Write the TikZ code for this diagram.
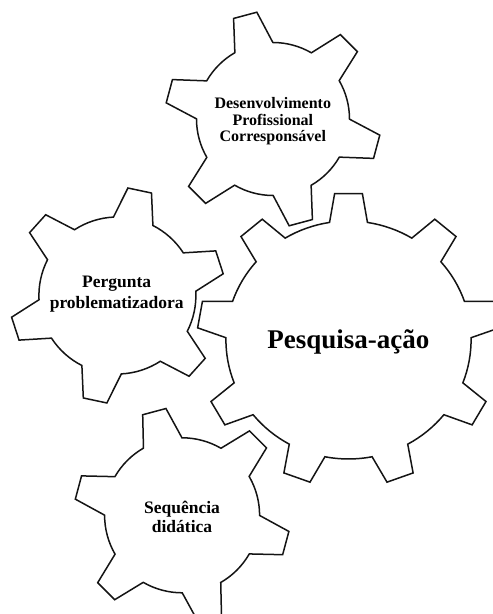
\documentclass[tikz,border=0pt]{standalone}
\usepackage{fontspec}
\setmainfont{Liberation Serif}
\tikzset{
  gearline/.style={draw=black!92, line width=1.5pt, line join=miter, fill=white},
  geartext/.style={font=\bfseries, align=center, inner sep=0pt, text=black},
}
% #1 scope options, #2 cx, #3 cy, #4 tip radius, #5 root radius, #6 teeth, #7 offset, #8 tip half angle, #9 base half angle
\newcommand\drawgear[9]{%
  \begin{scope}[shift={(#2,#3)},#1]
    \pgfmathsetmacro\gp{360/#6}
    \draw[gearline] ({#7-#9}:#5pt)
      \foreach \k in {1,...,#6} {
        -- ({#7+(\k-1)*\gp-#8}:#4pt)
        -- ({#7+(\k-1)*\gp+#8}:#4pt)
        -- ({#7+(\k-1)*\gp+#9}:#5pt)
        arc[start angle={#7+(\k-1)*\gp+#9}, end angle={#7+\k*\gp-#9}, radius=#5pt]
      } -- cycle;
  \end{scope}}
\begin{document}
\begin{tikzpicture}[x=1pt,y=1pt]
  \useasboundingbox (0,0) rectangle (493,614);
  \clip (0,0) rectangle (493,614);
  % top gear
  \drawgear{}{273}{495}{108}{76.5}{6}{45}{6.4}{14.9}
  % left gear
  \drawgear{}{117.4}{318.5}{108}{78.5}{6}{18}{6.4}{14.9}
  % bottom gear
  \drawgear{}{182.1}{98.7}{108}{77.5}{6}{45}{6.4}{14.9}
  % big gear
  \drawgear{xscale=1.03}{348.5}{274}{147}{119}{9}{90}{5.26}{8.9}

  \node[geartext, font=\bfseries\fontsize{16}{16.7}\selectfont] (dpc) at (272.8,{614-121.3})
    {Desenvolvimento\\Profissional\\Corresponsável};
  \node[geartext, font=\bfseries\fontsize{17.5}{21}\selectfont] (pp) at (116.7,{614-293.8})
    {Pergunta\\problematizadora};
  \node[geartext, font=\bfseries\fontsize{17.5}{19.4}\selectfont] (sd) at (182,{614-516.9})
    {Sequência\\didática};
  \node[geartext, font=\bfseries\fontsize{27}{30}\selectfont, anchor=base] (pa) at (348.3,{614-348.3})
    {Pesquisa-ação};
\end{tikzpicture}
\end{document}
